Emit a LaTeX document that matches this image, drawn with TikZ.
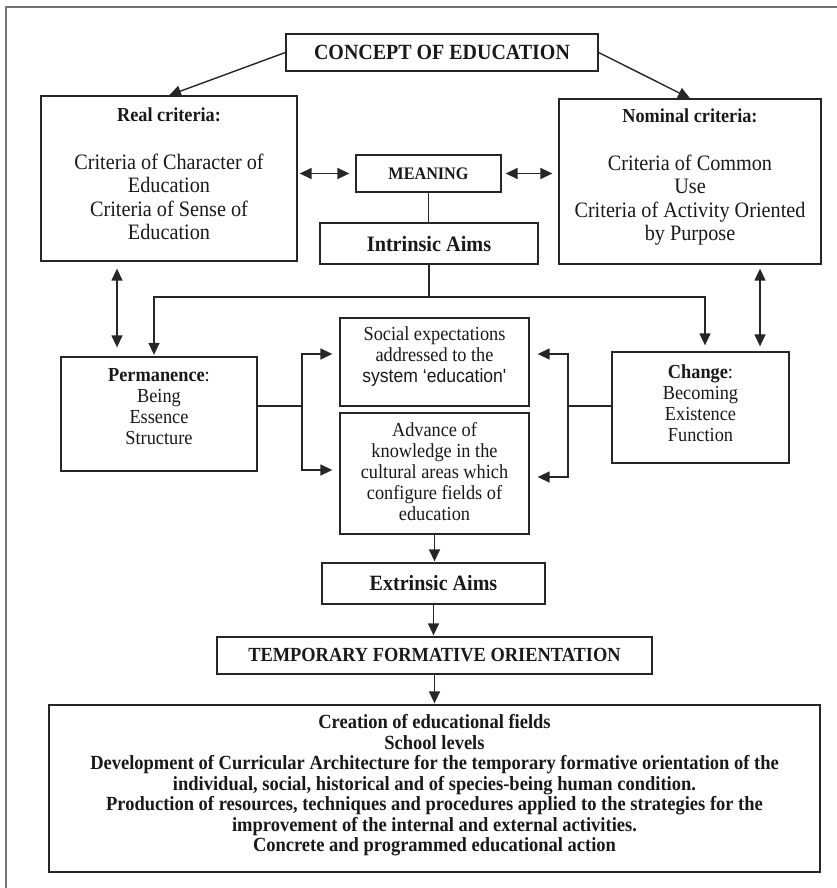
\documentclass[tikz,border=0pt]{standalone}
\usepackage{fontspec}
\setmainfont{Liberation Serif}[FakeStretch=0.92]
\newfontfamily\sysfont{Liberation Sans}[FakeStretch=0.92]
\usetikzlibrary{arrows.meta,calc}
\begin{document}
\begin{tikzpicture}[x=1pt,y=-1pt,
  box/.style={draw=black!85, line width=1.3pt, inner sep=0pt, anchor=center},
  txt/.style={inner sep=0pt, align=center, anchor=center, text=black!90},
  conn/.style={draw=black!85, line width=1.4pt},
  arr/.style={conn, -{Triangle[length=12pt,width=11pt]}},
  dbl/.style={conn, {Triangle[length=12pt,width=11pt]}-{Triangle[length=12pt,width=11pt]}},
  big/.style={font=\fontsize{22}{23.5}\selectfont},
  mid/.style={font=\fontsize{19.9}{21}\selectfont},
]
\useasboundingbox (0,0) rectangle (837,888);
\draw[black!55, line width=1.8pt] (6,888) -- (6,7) -- (837,7);

% boxes
\node[box, minimum width=312pt, minimum height=37pt] (concept) at (442,52.5) {};
\node[box, minimum width=256pt, minimum height=165pt] (real) at (169,178.5) {};
\node[box, minimum width=262pt, minimum height=165pt] (nominal) at (690,181.5) {};
\node[box, minimum width=145pt, minimum height=37pt] (meaning) at (428.5,173.5) {};
\node[box, minimum width=218pt, minimum height=41pt] (intrinsic) at (429,243.5) {};
\node[box, minimum width=196pt, minimum height=114pt] (perm) at (159,414) {};
\node[box, minimum width=189pt, minimum height=88pt] (social) at (434.5,362) {};
\node[box, minimum width=189pt, minimum height=121pt] (advance) at (434.5,473.5) {};
\node[box, minimum width=177pt, minimum height=111pt] (change) at (700.5,407.5) {};
\node[box, minimum width=223pt, minimum height=41pt] (extrinsic) at (433.5,583.5) {};
\node[box, minimum width=435pt, minimum height=37pt] (tfo) at (434.5,655.5) {};
\node[box, minimum width=771pt, minimum height=167pt] (bottom) at (434.5,788.5) {};

% texts
\node[txt, font=\bfseries\fontsize{21.7}{23}\selectfont] (conceptT) at (concept.center) {CONCEPT OF EDUCATION};
\node[txt, big] (realT) at ([yshift=4.5pt]real.center)
  {{\bfseries\fontsize{19.8}{23.5}\selectfont Real criteria:}\\[24pt]
   Criteria of Character of\\Education\\Criteria of Sense of\\Education};
\node[txt, big] (nominalT) at ([yshift=4pt]nominal.center)
  {{\bfseries\fontsize{19.8}{23.5}\selectfont Nominal criteria:}\\[24pt]
   Criteria of Common\\Use\\Criteria of Activity Oriented\\by Purpose};
\node[txt, font=\bfseries\fontsize{17.6}{19}\selectfont] (meaningT) at (meaning.center) {MEANING};
\node[txt, font=\bfseries\fontsize{22}{23}\selectfont] (intrinsicT) at (intrinsic.center) {Intrinsic Aims};
\node[txt, mid] (permT) at ([yshift=7pt]perm.center)
  {\textbf{Permanence}:\\Being\\Essence\\Structure};
\node[txt, mid] (socialT) at ([yshift=5pt]social.center)
  {Social expectations\\addressed to the\\{\sysfont\fontsize{19.1}{21}\selectfont system ‘education\XeTeXglyph\XeTeXcharglyph"27}};
\node[txt, mid] (advanceT) at ([yshift=1.5pt]advance.center)
  {Advance of\\knowledge in the\\cultural areas which\\configure fields of\\education};
\node[txt, mid] (changeT) at ([yshift=4.5pt]change.center)
  {\textbf{Change}:\\Becoming\\Existence\\Function};
\node[txt, font=\bfseries\fontsize{21.8}{23}\selectfont] (extrinsicT) at (extrinsic.center) {Extrinsic Aims};
\node[txt, font=\bfseries\fontsize{20}{22}\selectfont] (tfoT) at (tfo.center) {TEMPORARY FORMATIVE ORIENTATION};
\node[txt, font=\bfseries\fontsize{20.1}{20.5}\selectfont] (bottomT) at ([yshift=3pt]bottom.center)
  {Creation of educational fields\\School levels\\
   Development of Curricular Architecture for the temporary formative orientation of the\\
   individual, social, historical and of species-being human condition.\\
   Production of resources, techniques and procedures applied to the strategies for the\\
   improvement of the internal and external activities.\\
   Concrete and programmed educational action};

% helper coordinates
\coordinate (jL) at (154,297);
\coordinate (jR) at (705,297);
\coordinate (xRP) at (117,0);
\coordinate (xNC) at (760,0);
\coordinate (fL) at (302,406);
\coordinate (fLt) at (302,354);
\coordinate (fLb) at (302,470);
\coordinate (fR) at (568,406);
\coordinate (fRt) at (568,354);
\coordinate (fRb) at (568,477);

% connectors
\draw[arr] (concept.west) -- (real.north);
\draw[arr] (concept.east) -- (nominal.north);
\draw[dbl] ($(real.east |- meaning.west)+(2,0)$) -- ($(meaning.west)+(-6,0)$);
\draw[dbl] ($(meaning.east)+(4,0)$) -- ($(nominal.west |- meaning.east)+(-6,0)$);
\draw[conn] (meaning.south) -- (meaning.south |- intrinsic.north);
\draw[conn] (intrinsic.south) -- (intrinsic.south |- jL);
\draw[arr, shorten >=1.5pt] (jR) -- (jL) -- (jL |- perm.north);
\draw[arr, shorten >=6pt] (jL) -- (jR) -- (jR |- change.north);
\draw[dbl, shorten <=7pt, shorten >=9pt] (real.south -| xRP) -- (perm.north -| xRP);
\draw[dbl, shorten <=4pt, shorten >=5pt] (nominal.south -| xNC) -- (change.north -| xNC);
\draw[conn] (perm.east |- fL) -- (fL);
\draw[arr, shorten >=7pt] (fLb) -- (fLt) -- (fLt -| social.west);
\draw[arr, shorten >=7pt] (fLt) -- (fLb) -- (fLb -| advance.west);
\draw[conn] (change.west |- fR) -- (fR);
\draw[arr, shorten >=8pt] (fRb) -- (fRt) -- (fRt -| social.east);
\draw[arr, shorten >=8pt] (fRt) -- (fRb) -- (fRb -| advance.east);
\draw[arr, shorten >=1pt] (advance.south) -- (advance.south |- extrinsic.north);
\draw[arr, shorten >=1pt] (extrinsic.south) -- (extrinsic.south |- tfo.north);
\draw[arr, shorten >=1pt] (tfo.south) -- (tfo.south |- bottom.north);
\end{tikzpicture}
\end{document}
